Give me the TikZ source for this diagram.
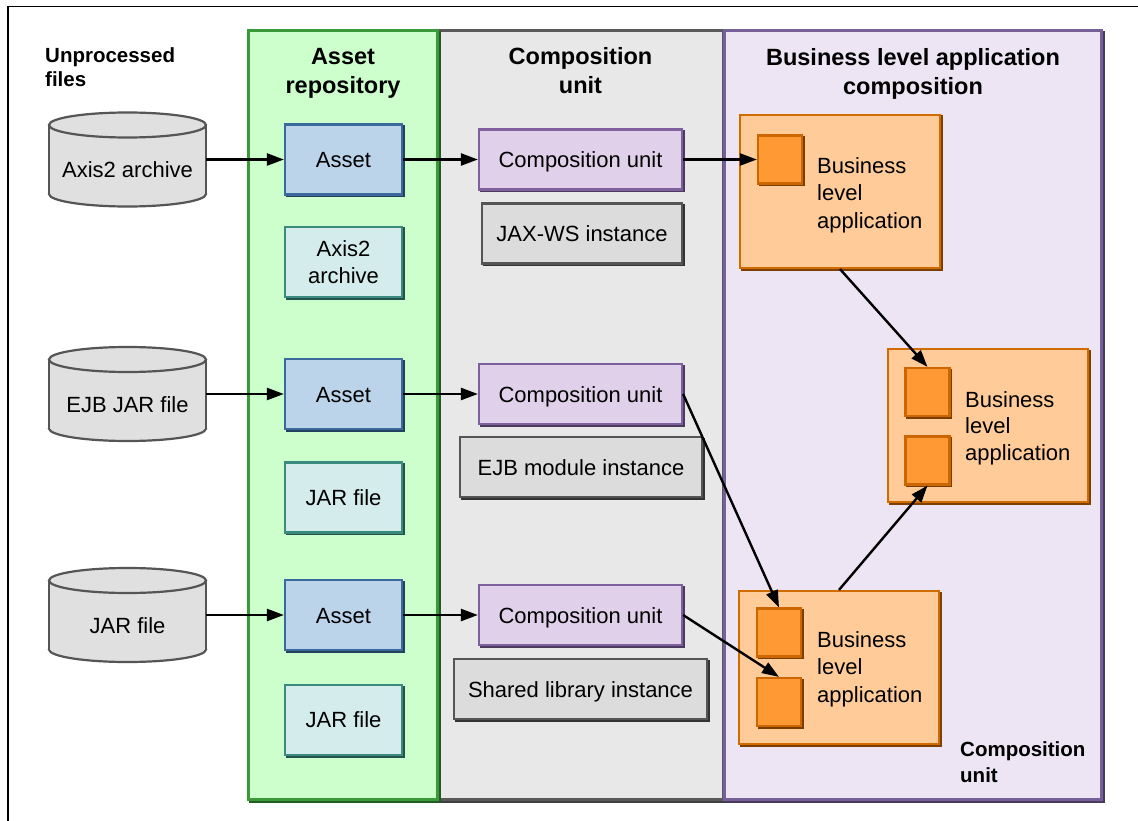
\documentclass[tikz,border=0pt]{standalone}
\usepackage{fontspec}
\setmainfont{Liberation Sans}
\usetikzlibrary{arrows.meta,shadows,backgrounds}
\definecolor{greenfill}{HTML}{CCFFCC}
\definecolor{greenline}{HTML}{3A9A3A}
\definecolor{grayfill}{HTML}{E8E8E8}
\definecolor{grayline}{HTML}{5A5A5A}
\definecolor{purpfill}{HTML}{EDE5F4}
\definecolor{purpline}{HTML}{76609A}
\definecolor{assetfill}{HTML}{BCD4EA}
\definecolor{assetline}{HTML}{3A6A9C}
\definecolor{artfill}{HTML}{D4ECEC}
\definecolor{artline}{HTML}{3A8A7E}
\definecolor{cufill}{HTML}{E0D0EA}
\definecolor{culine}{HTML}{7E609E}
\definecolor{instfill}{HTML}{DCDCDC}
\definecolor{instline}{HTML}{555555}
\definecolor{cylfill}{HTML}{E0E0E0}
\definecolor{cylline}{HTML}{555555}
\definecolor{blafill}{HTML}{FFCC99}
\definecolor{blaline}{HTML}{D06B00}
\definecolor{sqfill}{HTML}{FF9933}
\definecolor{sqline}{HTML}{CC6600}
\newcommand{\drawcyl}[1]{%
  \path (#1.north) ++(0,12.5) coordinate (#1top);
  \path (#1.south) ++(0,-12.5) coordinate (#1bot);
  \filldraw[fill=cylfill, draw=cylline, line width=2.2pt] (#1bot) ellipse[x radius=78.5pt, y radius=12.5pt];
  \fill[cylfill] (#1top -| #1.west) rectangle (#1bot -| #1.east);
  \draw[cylline, line width=2.2pt] (#1top -| #1.west) -- (#1bot -| #1.west) (#1top -| #1.east) -- (#1bot -| #1.east);
  \filldraw[fill=cylfill, draw=cylline, line width=2.2pt] (#1top) ellipse[x radius=78.5pt, y radius=12.5pt];
}
\begin{document}
\begin{tikzpicture}[x=1pt,y=-1pt,
  every node/.style={font=\fontsize{22}{27}\selectfont},
  shd/.style={general shadow={fill=#1, draw=#1, shadow xshift=1.6pt, shadow yshift=-1.6pt}},
  bx/.style={rectangle, inner sep=0pt, line width=2.2pt, align=center},
  one/.style={text height=16pt, text depth=0pt},
  asset/.style={bx, one, fill=assetfill, draw=assetline, minimum width=117pt, minimum height=70pt, shd=assetline!60!black},
  artf/.style={bx, fill=artfill, draw=artline, minimum width=117pt, minimum height=70pt, shd=artline!60!black},
  cu/.style={bx, one, fill=cufill, draw=culine, minimum width=203pt, minimum height=60pt, shd=culine!60!black},
  inst/.style={bx, one, fill=instfill, draw=instline, minimum height=60pt, shd=instline!60!black},
  bla/.style={bx, fill=blafill, draw=blaline, minimum width=200pt, minimum height=153pt, shd=blaline!60!black},
  sq/.style={bx, fill=sqfill, draw=sqline, minimum width=44pt, minimum height=48pt, shd=sqline!60!black},
  blat/.style={anchor=west, align=left, font=\fontsize{22}{27.5}\selectfont, inner sep=0pt},
  head/.style={font=\fontsize{23.5}{29}\selectfont\bfseries, align=center, inner sep=0pt},
  lab/.style={font=\fontsize{20.5}{24}\selectfont\bfseries, align=left, anchor=west, inner sep=0pt},
  cyl/.style={rectangle, inner sep=0pt, outer sep=0pt, minimum width=157pt, minimum height=94pt, text height=38pt, text depth=2pt},
  panel/.style={rectangle, inner sep=0pt, line width=3pt, minimum height=769pt},
  conn/.style={draw=black, line width=2.4pt, -{Triangle[length=17pt,width=12pt]}}
]
\useasboundingbox (0,0) rectangle (1138,821);
% outer frame
\draw[line width=1.5pt] (8,830) -- (8,6.5) -- (1145,6.5);
% panels
\node[panel, fill=grayfill, draw=grayline, minimum width=285pt, shd=grayline!70!black] (pgray) at (580.5,415) {};
\node[panel, fill=greenfill, draw=greenline, minimum width=189pt, shd=greenline!60!black] (pgreen) at (343,415) {};
\node[panel, fill=purpfill, draw=purpline, minimum width=377pt, shd=purpline!60!black] (ppurp) at (913,415) {};
% headings
\node[lab] (hun) at (45,67.5) {Unprocessed\\files};
\node[head] (har) at (343,73) {Asset\\repository};
\node[head] (hcu) at (580.5,71) {Composition\\unit};
\node[head] (hbla) at (913,73.5) {Business level application\\composition};
\node[lab, font=\fontsize{20.5}{26}\selectfont\bfseries] (hcu2) at (960,762) {Composition\\unit};
% cylinders
\node[cyl] (c1) at (127.5,159.5) {Axis2 archive};
\node[cyl] (c2) at (127.5,394) {EJB JAR file};
\node[cyl] (c3) at (127.5,615) {JAR file};
\begin{pgfonlayer}{background}
\drawcyl{c1}
\drawcyl{c2}
\drawcyl{c3}
\end{pgfonlayer}
% asset repository
\node[asset] (a1) at (343.5,159.5) {Asset};
\node[artf] (f1) at (343.5,262) {Axis2\\archive};
\node[asset] (a2) at (343.5,394) {Asset};
\node[artf] (f2) at (343.5,497.5) {JAR file};
\node[asset] (a3) at (343.5,615) {Asset};
\node[artf] (f3) at (343.5,720) {JAR file};
% composition units
\node[cu] (u1) at (580.5,159.5) {Composition unit};
\node[inst, minimum width=200pt] (i1) at (582,233.5) {JAX-WS instance};
\node[cu] (u2) at (580.5,394) {Composition unit};
\node[inst, minimum width=242pt] (i2) at (581,467) {EJB module instance};
\node[cu] (u3) at (580.5,615) {Composition unit};
\node[inst, minimum width=253pt] (i3) at (580.5,689) {Shared library instance};
% business level applications
\node[bla] (b1) at (840,191.5) {};
\node[sq] (s1) at (780,159.5) {};
\node[blat] (b1t) at (817,195) {Business\\level\\application};
\node[bla] (b2) at (988,425.5) {};
\node[sq] (s21) at (927.5,392) {};
\node[sq] (s22) at (927.5,460.5) {};
\node[blat, font=\fontsize{22}{26.5}\selectfont] (b2t) at (965,428) {Business\\level\\application};
\node[bla] (b3) at (839,667.5) {};
\node[sq] (s31) at (779,632.5) {};
\node[sq] (s32) at (779,702) {};
\node[blat] (b3t) at (817,669) {Business\\level\\application};
% connectors
\draw[conn] (c1.east) -- (a1.west);
\draw[conn] (c2.east) -- (a2.west);
\draw[conn] (c3.east) -- (a3.west);
\draw[conn] (a1.east) -- (u1.west);
\draw[conn] (a2.east) -- (u2.west);
\draw[conn] (a3.east) -- (u3.west);
\draw[conn] (u1.east) -- (s1.west);
\draw[conn] (u2.east) -- (s31.north);
\draw[conn] (u3.east) -- (s32.north);
\draw[conn] (b1.south) -- (s21.north);
\draw[conn] (b3.north) -- (s22.south);
\end{tikzpicture}
\end{document}
